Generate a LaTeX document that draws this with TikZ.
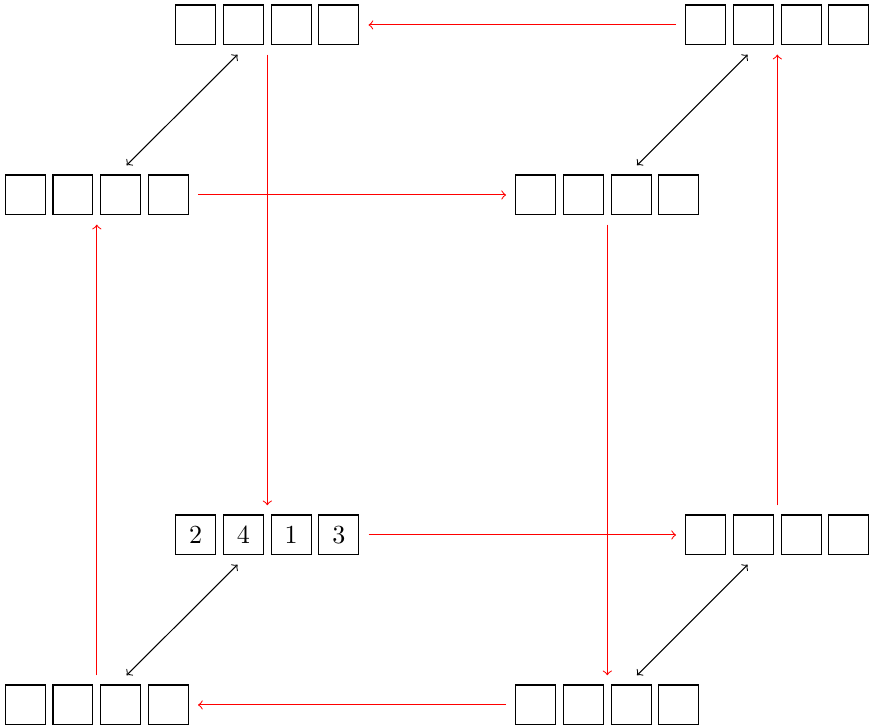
\documentclass[tikz,border=0pt]{standalone}
\usetikzlibrary{fit}
\newcommand\cellgroup[7]{% name, x, y, four labels
  \node[cell] (#1-0) at (#2,#3) {#4};
  \node[cell] (#1-1) at ({#2+47.7},#3) {#5};
  \node[cell] (#1-2) at ({#2+2*47.7},#3) {#6};
  \node[cell] (#1-3) at ({#2+3*47.7},#3) {#7};
  \node[grp, fit=(#1-0)(#1-3)] (#1) {};
}
\begin{document}
\begin{tikzpicture}[x=0.3835pt,y=-0.3835pt,
  cell/.style={draw, minimum size=15.3pt, inner sep=0pt, anchor=north west},
  grp/.style={inner sep=3.333pt},
  redarrow/.style={red, ->},
  bothways/.style={<->}]
\useasboundingbox (0,0) rectangle (869,727);
\cellgroup{TLB}{175.3}{4.5}{}{}{}{}
\cellgroup{TRB}{685.3}{4.5}{}{}{}{}
\cellgroup{MLF}{4.8}{174.5}{}{}{}{}
\cellgroup{MRF}{515.3}{174.5}{}{}{}{}
\cellgroup{BLB}{175.3}{514.5}{2}{4}{1}{3}
\cellgroup{BRB}{685.3}{514.5}{}{}{}{}
\cellgroup{BLF}{4.8}{684.5}{}{}{}{}
\cellgroup{BRF}{515.3}{684.5}{}{}{}{}
\draw[redarrow] (TRB) -- (TLB);
\draw[redarrow] (MLF) -- (MRF);
\draw[redarrow] (BLB) -- (BRB);
\draw[redarrow] (BRF) -- (BLF);
\draw[redarrow] (TLB) -- (BLB);
\draw[redarrow] (BLF) -- (MLF);
\draw[redarrow] (MRF) -- (BRF);
\draw[redarrow] (BRB) -- (TRB);
\draw[bothways] (TLB) -- (MLF);
\draw[bothways] (TRB) -- (MRF);
\draw[bothways] (BLB) -- (BLF);
\draw[bothways] (BRB) -- (BRF);
\end{tikzpicture}
\end{document}
